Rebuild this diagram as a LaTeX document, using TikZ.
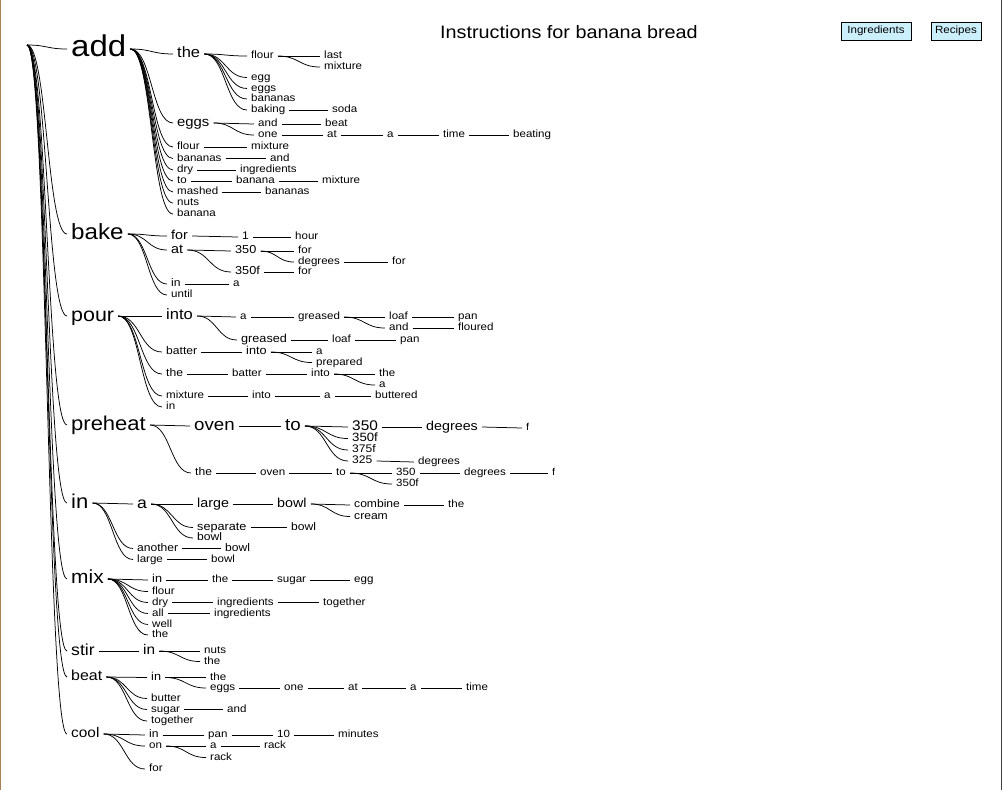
\documentclass[tikz,border=0pt]{standalone}
\usepackage{fontspec}
\setmainfont{Liberation Sans}[FakeStretch=1.1]
\usetikzlibrary{calc}

\begin{document}
\begin{tikzpicture}[
  x=1pt, y=-1pt,
  wd/.style={anchor=west, inner xsep=4pt, inner ysep=0pt, xshift=-4pt, yshift=-1pt,
    text height={0.72*#1pt}, text depth={0.2*#1pt}, font=\fontsize{#1}{#1}\selectfont},
  wd/.default=10.5,
  link/.style={line width=0.75pt, to path={let \p1=(\tikztostart), \p2=(\tikztotarget) in
    .. controls ({0.5*\x1+0.5*\x2},\y1) and ({0.5*\x1+0.5*\x2},\y2) .. (\tikztotarget)}},
  btn/.style={draw, fill=cyan!20, inner sep=0pt, minimum height=18pt, font=\fontsize{10.5}{10.5}\selectfont}
]
  \useasboundingbox (0,0) rectangle (1002,790);
  \draw[line width=1pt, brown!70!gray] (0.5,0) -- (0.5,790);
  \draw[line width=1.2pt, black!75] (1001.2,0) -- (1001.2,790);

  \node[font=\fontsize{18}{18}\selectfont] (title) at (569,32) {Instructions for banana bread};
  \node[btn, minimum width=70pt] (ingr) at (876,31) {Ingredients};
  \node[btn, minimum width=50pt] (recp) at (956,31) {Recipes};

  \coordinate (R) at (27,45);

  \node[wd=30] (A) at (71,48) {add};
  \node[wd=15] (A1) at (177,53) {the};
  \node[wd] (A11) at (251,55) {flour};
  \node[wd] (A111) at (324,55) {last};
  \node[wd] (A112) at (324,66) {mixture};
  \node[wd] (A12) at (251,76.5) {egg};
  \node[wd] (A13) at (251,87.5) {eggs};
  \node[wd] (A14) at (251,98) {bananas};
  \node[wd] (A15) at (251,109) {baking};
  \node[wd] (A151) at (332,109) {soda};
  \node[wd=13.5] (A2) at (177,122) {eggs};
  \node[wd] (A21) at (258,123) {and};
  \node[wd] (A211) at (325,123) {beat};
  \node[wd] (A22) at (258,134) {one};
  \node[wd] (A221) at (327,134) {at};
  \node[wd] (A2211) at (387,134) {a};
  \node[wd] (A22111) at (443,134) {time};
  \node[wd] (A221111) at (513,134) {beating};
  \node[wd] (A3) at (177,146) {flour};
  \node[wd] (A31) at (251,146) {mixture};
  \node[wd] (A4) at (177,157.5) {bananas};
  \node[wd] (A41) at (270,157.5) {and};
  \node[wd] (A5) at (177,169) {dry};
  \node[wd] (A51) at (240,169) {ingredients};
  \node[wd] (A6) at (177,180) {to};
  \node[wd] (A61) at (236,180) {banana};
  \node[wd] (A611) at (322,180) {mixture};
  \node[wd] (A7) at (177,191) {mashed};
  \node[wd] (A71) at (265,191) {bananas};
  \node[wd] (A8) at (177,202) {nuts};
  \node[wd] (A9) at (177,213) {banana};

  \node[wd=22] (B) at (71,233) {bake};
  \node[wd=13] (B1) at (171,235) {for};
  \node[wd=11] (B11) at (242,236) {1};
  \node[wd] (B111) at (295,236) {hour};
  \node[wd=13] (B2) at (171,249) {at};
  \node[wd=11.5] (B21) at (235,250) {350};
  \node[wd] (B211) at (298,250) {for};
  \node[wd] (B212) at (298,261) {degrees};
  \node[wd] (B2121) at (392,261) {for};
  \node[wd=11.5] (B22) at (235,271) {350f};
  \node[wd] (B221) at (298,271) {for};
  \node[wd=11] (B3) at (171,283) {in};
  \node[wd] (B31) at (233,283) {a};
  \node[wd] (B4) at (171,294) {until};

  \node[wd=19.5] (P) at (71,315) {pour};
  \node[wd=15] (P1) at (166,315) {into};
  \node[wd] (P11) at (240,316) {a};
  \node[wd] (P111) at (298,316) {greased};
  \node[wd] (P1111) at (389,316) {loaf};
  \node[wd] (P11111) at (458,316) {pan};
  \node[wd] (P1112) at (389,327) {and};
  \node[wd] (P11121) at (458,327) {floured};
  \node[wd=11.5] (P12) at (241,339) {greased};
  \node[wd] (P121) at (332,339) {loaf};
  \node[wd] (P1211) at (400,339) {pan};
  \node[wd=11] (P2) at (166,351) {batter};
  \node[wd=11.5] (P21) at (246,351) {into};
  \node[wd] (P211) at (316,351) {a};
  \node[wd] (P212) at (316,361.5) {prepared};
  \node[wd=11] (P3) at (166,373) {the};
  \node[wd] (P31) at (232,373) {batter};
  \node[wd] (P311) at (311,373) {into};
  \node[wd] (P3111) at (379,373) {the};
  \node[wd] (P3112) at (379,384) {a};
  \node[wd] (P4) at (166,395) {mixture};
  \node[wd] (P41) at (252,395) {into};
  \node[wd] (P411) at (324,395) {a};
  \node[wd] (P4111) at (375,395) {buttered};
  \node[wd] (P5) at (166,406) {in};

  \node[wd=20] (H) at (71,424) {preheat};
  \node[wd=17] (H1) at (194,425) {oven};
  \node[wd=17] (H11) at (285,425) {to};
  \node[wd=14] (H111) at (352,426) {350};
  \node[wd=13] (H1111) at (426,426) {degrees};
  \node[wd=10] (H11111) at (526,427) {f};
  \node[wd=12] (H112) at (352,437.5) {350f};
  \node[wd=11] (H113) at (352,449) {375f};
  \node[wd=11] (H114) at (352,460) {325};
  \node[wd] (H1141) at (418,461) {degrees};
  \node[wd=11] (H2) at (195,472) {the};
  \node[wd] (H21) at (260,472) {oven};
  \node[wd] (H211) at (336,472) {to};
  \node[wd] (H2111) at (396,472) {350};
  \node[wd] (H21111) at (464,472) {degrees};
  \node[wd=10] (H211111) at (552,472) {f};
  \node[wd] (H2112) at (396,483) {350f};

  \node[wd=20] (I) at (71,502) {in};
  \node[wd=16] (I1) at (137,503) {a};
  \node[wd=13] (I11) at (197,503) {large};
  \node[wd=13] (I111) at (277,503) {bowl};
  \node[wd=11] (I1111) at (354,504) {combine};
  \node[wd] (I11111) at (448,504) {the};
  \node[wd=11] (I1112) at (354,515.5) {cream};
  \node[wd=11.5] (I12) at (197,526.5) {separate};
  \node[wd=11] (I121) at (291,526.5) {bowl};
  \node[wd=11] (I13) at (197,537) {bowl};
  \node[wd=11] (I2) at (137,547.5) {another};
  \node[wd=11] (I21) at (225,547.5) {bowl};
  \node[wd] (I3) at (137,558.5) {large};
  \node[wd] (I31) at (211,558.5) {bowl};

  \node[wd=19] (M) at (71,578) {mix};
  \node[wd=11.5] (M1) at (152,579) {in};
  \node[wd] (M11) at (212,579) {the};
  \node[wd] (M111) at (277,579) {sugar};
  \node[wd] (M1111) at (354,579) {egg};
  \node[wd] (M2) at (152,590.5) {flour};
  \node[wd] (M3) at (152,601.5) {dry};
  \node[wd] (M31) at (217,601.5) {ingredients};
  \node[wd] (M311) at (323,601.5) {together};
  \node[wd] (M4) at (152,612.5) {all};
  \node[wd] (M41) at (214,612.5) {ingredients};
  \node[wd] (M5) at (152,623.5) {well};
  \node[wd] (M6) at (152,634) {the};

  \node[wd=16] (S) at (71,650) {stir};
  \node[wd=14] (S1) at (143,650) {in};
  \node[wd] (S11) at (204,650) {nuts};
  \node[wd] (S12) at (204,660.5) {the};

  \node[wd=14.5] (T) at (71,676) {beat};
  \node[wd=11.5] (T1) at (151,676.5) {in};
  \node[wd] (T11) at (210,676.5) {the};
  \node[wd] (T12) at (210,687) {eggs};
  \node[wd] (T121) at (284,687) {one};
  \node[wd] (T1211) at (348,687) {at};
  \node[wd] (T12111) at (410,687) {a};
  \node[wd] (T121111) at (466,687) {time};
  \node[wd] (T2) at (151,697.5) {butter};
  \node[wd] (T3) at (151,708.5) {sugar};
  \node[wd] (T31) at (227,708.5) {and};
  \node[wd] (T4) at (151,720) {together};

  \node[wd=14] (C) at (71,733) {cool};
  \node[wd=11] (C1) at (149,734) {in};
  \node[wd] (C11) at (208,734) {pan};
  \node[wd] (C111) at (277,734) {10};
  \node[wd] (C1111) at (338,734) {minutes};
  \node[wd] (C2) at (149,745) {on};
  \node[wd] (C21) at (210,745) {a};
  \node[wd] (C211) at (264,745) {rack};
  \node[wd] (C22) at (210,756.5) {rack};
  \node[wd] (C3) at (149,768) {for};

  \foreach \c in {A,B,P,H,I,M,S,T,C}
    \draw[link] (R) to (\c.west);
  \foreach \p/\c in {A/A1, A1/A11, A11/A111, A11/A112, A1/A12, A1/A13, A1/A14, A1/A15, A15/A151,
      A/A2, A2/A21, A21/A211, A2/A22, A22/A221, A221/A2211, A2211/A22111, A22111/A221111,
      A/A3, A3/A31, A/A4, A4/A41, A/A5, A5/A51, A/A6, A6/A61, A61/A611, A/A7, A7/A71, A/A8, A/A9}
    \draw[link] (\p.east) to (\c.west);
  \foreach \p/\c in {B/B1, B1/B11, B11/B111, B/B2, B2/B21, B21/B211, B21/B212, B212/B2121,
      B2/B22, B22/B221, B/B3, B3/B31, B/B4}
    \draw[link] (\p.east) to (\c.west);
  \foreach \p/\c in {P/P1, P1/P11, P11/P111, P111/P1111, P1111/P11111, P111/P1112, P1112/P11121,
      P1/P12, P12/P121, P121/P1211, P/P2, P2/P21, P21/P211, P21/P212, P/P3, P3/P31, P31/P311,
      P311/P3111, P311/P3112, P/P4, P4/P41, P41/P411, P411/P4111, P/P5}
    \draw[link] (\p.east) to (\c.west);
  \foreach \p/\c in {H/H1, H1/H11, H11/H111, H111/H1111, H1111/H11111, H11/H112, H11/H113,
      H11/H114, H114/H1141, H/H2, H2/H21, H21/H211, H211/H2111, H2111/H21111, H21111/H211111,
      H211/H2112}
    \draw[link] (\p.east) to (\c.west);
  \foreach \p/\c in {I/I1, I1/I11, I11/I111, I111/I1111, I1111/I11111, I111/I1112, I1/I12,
      I12/I121, I1/I13, I/I2, I2/I21, I/I3, I3/I31}
    \draw[link] (\p.east) to (\c.west);
  \foreach \p/\c in {M/M1, M1/M11, M11/M111, M111/M1111, M/M2, M/M3, M3/M31, M31/M311,
      M/M4, M4/M41, M/M5, M/M6}
    \draw[link] (\p.east) to (\c.west);
  \foreach \p/\c in {S/S1, S1/S11, S1/S12, T/T1, T1/T11, T1/T12, T12/T121, T121/T1211,
      T1211/T12111, T12111/T121111, T/T2, T/T3, T3/T31, T/T4}
    \draw[link] (\p.east) to (\c.west);
  \foreach \p/\c in {C/C1, C1/C11, C11/C111, C111/C1111, C/C2, C2/C21, C21/C211, C2/C22, C/C3}
    \draw[link] (\p.east) to (\c.west);
\end{tikzpicture}
\end{document}
